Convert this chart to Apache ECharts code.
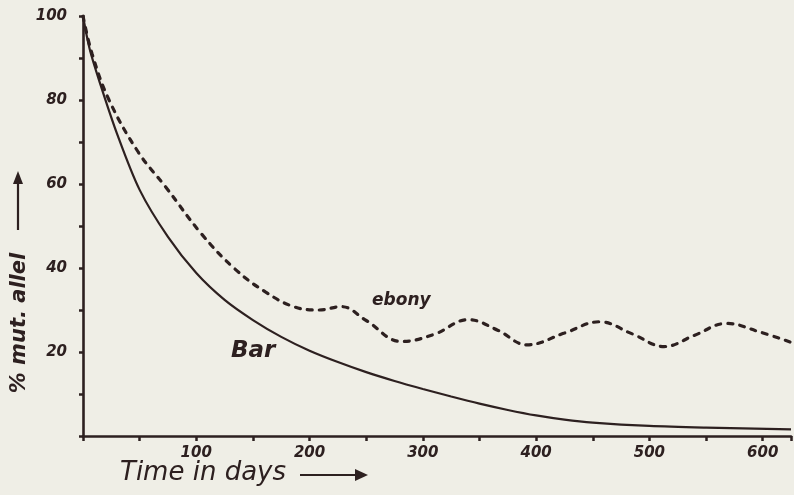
<!DOCTYPE html>
<html>
<head>
<meta charset="utf-8">
<script src="https://cdn.jsdelivr.net/npm/echarts@6/dist/echarts.min.js"></script>
<style>
html,body{margin:0;padding:0;background:#efeee6;}
#chart{width:794px;height:495px;}
</style>
</head>
<body>
<div id="chart"></div>
<script>
// Data
var barDays = [0, 6, 15, 30, 50, 75, 100, 125, 150, 175, 200, 225, 250, 275, 300, 325, 350, 375, 400, 425, 450, 500, 550, 625];
var barVals = [100, 92, 84, 72, 58.6, 47.4, 38.8, 32.4, 27.6, 23.6, 20.3, 17.6, 15.2, 13.1, 11.2, 9.4, 7.7, 6.2, 4.9, 3.9, 3.2, 2.4, 2, 1.6];

var ebonyDays = [0, 8, 23, 49, 73, 105, 134, 161, 187, 208, 228, 250, 281, 310, 340, 366, 392, 425, 456, 485, 513, 540, 568, 597, 625];
var ebonyVals = [100, 91, 80, 67.5, 59.3, 48, 39.8, 34.3, 30.7, 30, 30.8, 27.5, 22.5, 24.2, 27.7, 25.2, 21.7, 24.5, 27.2, 24.3, 21.3, 24, 26.8, 24.8, 22.3];

var xTickLabels = ['100', '200', '300', '400', '500', '600'];
var yTickLabels = ['20', '40', '60', '80', '100'];

var ink = '#2d2020';
var fontFam = '"DejaVu Sans", sans-serif';

function pairs(xs, ys) { return xs.map(function (x, i) { return [x, ys[i]]; }); }

var chart = echarts.init(document.getElementById('chart'), null, {renderer: 'canvas'});
chart.setOption({
  backgroundColor: '#efeee6',
  animation: false,
  grid: {left: 83, right: 0, top: 16, bottom: 59, containLabel: false},
  xAxis: {
    type: 'value', min: 0, max: 625, interval: 50,
    axisLine: {lineStyle: {color: ink, width: 2.6}},
    axisTick: {show: true, inside: false, length: 5, lineStyle: {color: ink, width: 2.5}},
    splitLine: {show: false},
    axisLabel: {
      margin: 10, color: ink, fontFamily: fontFam, fontStyle: 'italic', fontWeight: 'bold', fontSize: 15,
      formatter: function (v) { var s = String(v); return xTickLabels.indexOf(s) >= 0 ? s : ''; }
    }
  },
  yAxis: {
    type: 'value', min: 0, max: 100, interval: 10,
    axisLine: {lineStyle: {color: ink, width: 2.6}},
    axisTick: {show: true, inside: false, length: 4, lineStyle: {color: ink, width: 2.5}},
    splitLine: {show: false},
    axisLabel: {
      margin: 16, color: ink, fontFamily: fontFam, fontStyle: 'italic', fontWeight: 'bold', fontSize: 15,
      formatter: function (v) { var s = String(v); return yTickLabels.indexOf(s) >= 0 ? s : ''; }
    }
  },
  series: [
    {
      name: 'Bar', type: 'line', smooth: 0.3, symbol: 'none',
      data: pairs(barDays, barVals),
      lineStyle: {color: ink, width: 2.2}
    },
    {
      name: 'ebony', type: 'line', smooth: 0.4, symbol: 'none',
      data: pairs(ebonyDays, ebonyVals),
      lineStyle: {color: ink, width: 3.2, type: [5, 7], cap: 'round'}
    }
  ],
  graphic: [
    {type: 'text', left: 231, top: 340, style: {text: 'Bar', fill: ink, font: 'italic bold 23px "DejaVu Sans"'}},
    {type: 'text', left: 372, top: 292, style: {text: 'ebony', fill: ink, font: 'italic bold 17px "DejaVu Sans"'}},
    {type: 'text', left: 120, top: 460, style: {text: 'Time in days', fill: ink, font: 'italic 26px "DejaVu Sans"'}},
    {type: 'line', shape: {x1: 300, y1: 475, x2: 360, y2: 475}, style: {stroke: ink, lineWidth: 2.2}},
    {type: 'polygon', shape: {points: [[368, 475], [355, 469], [355, 481]]}, style: {fill: ink}},
    {type: 'text', x: 20, y: 323, rotation: Math.PI / 2, style: {text: '% mut. allel', fill: ink, font: 'italic bold 21px "DejaVu Sans"', align: 'center', verticalAlign: 'middle'}},
    {type: 'line', shape: {x1: 18, y1: 230, x2: 18, y2: 180}, style: {stroke: ink, lineWidth: 2.2}},
    {type: 'polygon', shape: {points: [[18, 171], [13, 184], [23, 184]]}, style: {fill: ink}}
  ]
});
</script>
</body>
</html>
